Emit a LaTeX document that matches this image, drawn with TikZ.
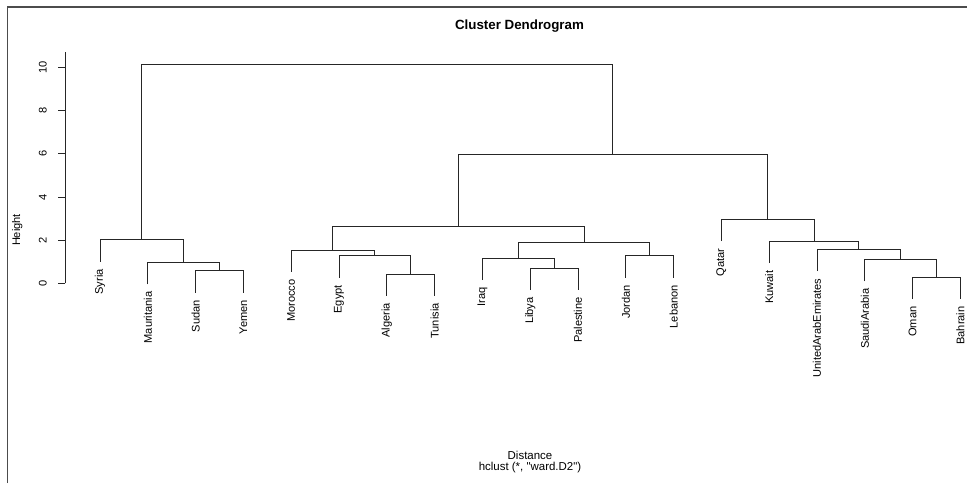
\documentclass[tikz,border=0pt]{standalone}
\usepackage{fontspec}
\setmainfont{Liberation Sans}
\newfontfamily\plainsf{Liberation Sans}

\begin{document}
\begin{tikzpicture}[x=0.75pt,y=0.75pt,
	branch/.style={draw=black!85, line width=0.7pt},
	leaflab/.style={rotate=90, anchor=east, inner sep=0pt, font=\fontsize{8.3}{10}\selectfont},
	ticklab/.style={rotate=90, inner sep=0pt, font=\fontsize{8.3}{10}\selectfont},
	axlab/.style={inner sep=0pt, font=\fontsize{8.6}{10}\selectfont}]
			\useasboundingbox (0,0) rectangle (967,483);
			
			\draw [line width=1pt, black!70] (7.3,0) -- (7.3,476) -- (967,476);
			
			\node [inner sep=0pt, font=\bfseries\fontsize{10}{12}\selectfont] (title) at (519.5,457) {Cluster Dendrogram};
			\node [ticklab] (ylab) at (17.3,253) {Height};
			\node [axlab] (xlab) at (530,28) {Distance};
			\node [axlab] (sublab) at (530,15.7) {\plainsf hclust (*, "ward.D2")};
			
			\begin{scope}[shift={(0,199.7)}, y=16.18pt]
			% height axis
			\draw [branch] (65,0) -- (65,10.74);
			\foreach \t in {0,2,...,10} {
				\draw [branch] (65,\t) -- (58,\t);
				\node [ticklab] (tick\t) at (42.7,\t) {\t};
			}
			
			% leaves, with the height of their first merge
			\foreach \n/\h [count=\i] in {Syria/2.01, Mauritania/0.97, Sudan/0.58, Yemen/0.58, Morocco/1.54, Egypt/1.27, Algeria/0.43, Tunisia/0.43, Iraq/1.16, Libya/0.70, Palestine/0.70, Jordan/1.27, Lebanon/1.27, Qatar/2.97, Kuwait/1.95, UnitedArabEmirates/1.58, SaudiArabia/1.11, Oman/0.28, Bahrain/0.28} {
				\coordinate (\n) at ({100+47.8*(\i-1)},{\h-1.016});
				\node [leaflab] (\n-lab) at ([yshift=-5.3pt]\n) {\n};
			}
			
			% merges
			\coordinate (SuYe) at (219.5,0.58);
			\coordinate (MaSY) at (183.65,0.97);
			\coordinate (SyMa) at (141.8,2.01);
			\coordinate (AlTu) at (410.7,0.43);
			\coordinate (EgAT) at (374.85,1.27);
			\coordinate (MoEg) at (332.9,1.54);
			\coordinate (LiPa) at (554.1,0.70);
			\coordinate (IrLP) at (518.25,1.16);
			\coordinate (JoLe) at (649.7,1.27);
			\coordinate (Levant) at (584.0,1.90);
			\coordinate (NAfLev) at (458.5,2.62);
			\coordinate (OmBa) at (936.5,0.28);
			\coordinate (SaOB) at (900.65,1.11);
			\coordinate (UASa) at (858.8,1.58);
			\coordinate (KuUA) at (814.0,1.95);
			\coordinate (Gulf) at (767.7,2.97);
			\coordinate (East) at (612.9,5.98);
			\coordinate (Root) at (377.3,10.15);
			
			\draw [branch] (Sudan) |- (SuYe) -| (Yemen);
			\draw [branch] (Mauritania) |- (MaSY) -| (SuYe);
			\draw [branch] (Syria) |- (SyMa) -| (MaSY);
			
			\draw [branch] (Algeria) |- (AlTu) -| (Tunisia);
			\draw [branch] (Egypt) |- (EgAT) -| (AlTu);
			\draw [branch] (Morocco) |- (MoEg) -| (EgAT);
			
			\draw [branch] (Libya) |- (LiPa) -| (Palestine);
			\draw [branch] (Iraq) |- (IrLP) -| (LiPa);
			\draw [branch] (Jordan) |- (JoLe) -| (Lebanon);
			\draw [branch] (IrLP) |- (Levant) -| (JoLe);
			\draw [branch] (MoEg) |- (NAfLev) -| (Levant);
			
			\draw [branch] (Oman) |- (OmBa) -| (Bahrain);
			\draw [branch] (SaudiArabia) |- (SaOB) -| (OmBa);
			\draw [branch] (UnitedArabEmirates) |- (UASa) -| (SaOB);
			\draw [branch] (Kuwait) |- (KuUA) -| (UASa);
			\draw [branch] (Qatar) |- (Gulf) -| (KuUA);
			
			\draw [branch] (NAfLev) |- (East) -| (Gulf);
			\draw [branch] (SyMa) |- (Root) -| (East);
			\end{scope}
\end{tikzpicture}
\end{document}
